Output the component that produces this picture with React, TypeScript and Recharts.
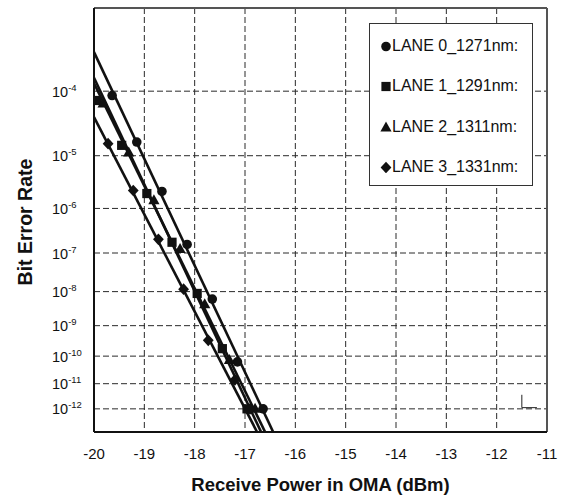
import React from 'react';
import {
  ComposedChart,
  Line,
  Scatter,
  XAxis,
  YAxis,
  CartesianGrid,
  Legend,
  ReferenceLine,
} from 'recharts';

// ---------- data ----------
const laneNames = ['LANE 0_1271nm:', 'LANE 1_1291nm:', 'LANE 2_1311nm:', 'LANE 3_1331nm:'];
const laneShapes = ['circle', 'square', 'triangle', 'diamond'];

// measured points (receive power dBm, bit error rate)
const lane0Power = [-19.64, -19.15, -18.65, -18.15, -17.65, -17.15, -16.64];
const lane0Ber = [8.7e-5, 1.7e-5, 2.2e-6, 1.6e-7, 6.2e-9, 6.3e-11, 1.0e-12];

const lane1Power = [-19.95, -19.45, -18.95, -18.45, -17.95, -17.45, -16.96];
const lane1Ber = [7.4e-5, 1.5e-5, 2.0e-6, 1.8e-7, 8.9e-9, 1.8e-10, 1.0e-12];

const lane2Power = [-19.82, -19.31, -18.81, -18.29, -17.8, -17.31, -16.8];
const lane2Ber = [6.7e-5, 1.14e-5, 1.47e-6, 1.24e-7, 4.4e-9, 7.4e-11, 1.0e-12];

const lane3Power = [-19.72, -19.22, -18.72, -18.22, -17.73, -17.2, -16.9];
const lane3Ber = [1.6e-5, 2.3e-6, 2.1e-7, 1.17e-8, 3.4e-10, 1.4e-11, 1.0e-12];

// fitted lines (end points)
const lane0FitPower = [-20, -16.44];
const lane0FitBer = [3.2e-4, 1e-13];
const lane1FitPower = [-20, -16.68];
const lane1FitBer = [1.52e-4, 1e-13];
const lane2FitPower = [-20, -16.6];
const lane2FitBer = [1.28e-4, 1e-13];
const lane3FitPower = [-20, -16.76];
const lane3FitBer = [4.2e-5, 1e-13];

// small corner mark in the lower right of the plot
const cornerMarkPower = [-11.5, -11.5, -11.2];
const cornerMarkBer = [10 ** -11.43, 10 ** -11.95, 10 ** -11.95];

// axes
const xTicks = [-20, -19, -18, -17, -16, -15, -14, -13, -12, -11];
const yExponents = [4, 5, 6, 7, 8, 9, 10, 11, 12];
const yDomainExponents = [3, 13];

// ---------- helpers ----------
const q = (ber: number) => Math.log10(-Math.log10(ber));
const toPoints = (xs: number[], bers: number[]) => xs.map((x, i) => ({ x, q: q(bers[i]) }));

const pointSets = [
  toPoints(lane0Power, lane0Ber),
  toPoints(lane1Power, lane1Ber),
  toPoints(lane2Power, lane2Ber),
  toPoints(lane3Power, lane3Ber),
];
const fitSets = [
  toPoints(lane0FitPower, lane0FitBer),
  toPoints(lane1FitPower, lane1FitBer),
  toPoints(lane2FitPower, lane2FitBer),
  toPoints(lane3FitPower, lane3FitBer),
];
const cornerMark = toPoints(cornerMarkPower, cornerMarkBer);

const minorTicks: number[] = [];
for (let i = 0; i <= 45; i++) minorTicks.push(Math.round((-20 + i * 0.2) * 10) / 10);

const yTicks = yExponents.map((n) => Math.log10(n));
const yDomain = yDomainExponents.map((n) => Math.log10(n));

const FONT = '"Liberation Sans", Arial, Helvetica, sans-serif';
const INK = '#111';

const drawShape = (shape: string, cx: number, cy: number, key?: string | number) => {
  switch (shape) {
    case 'circle':
      return <circle key={key} cx={cx} cy={cy} r={4.8} fill={INK} />;
    case 'square':
      return <rect key={key} x={cx - 4.6} y={cy - 4.6} width={9.2} height={9.2} fill={INK} />;
    case 'triangle':
      return (
        <polygon
          key={key}
          points={`${cx},${cy - 6} ${cx + 5.6},${cy + 4} ${cx - 5.6},${cy + 4}`}
          fill={INK}
        />
      );
    default:
      return (
        <polygon
          key={key}
          points={`${cx},${cy - 5.8} ${cx + 5.4},${cy} ${cx},${cy + 5.8} ${cx - 5.4},${cy}`}
          fill={INK}
        />
      );
  }
};

const makeShape = (shape: string) => (props: any) => {
  const { cx, cy } = props;
  if (cx == null || cy == null) return <g />;
  return drawShape(shape, cx, cy);
};

const XTick = (props: any) => {
  const { x, y, payload } = props;
  return (
    <text x={x} y={y + 27} textAnchor="middle" fontSize={15} fontFamily={FONT} fill={INK}>
      {payload.value}
    </text>
  );
};

const YTick = (props: any) => {
  const { x, y, payload } = props;
  const n = Math.round(Math.pow(10, payload.value));
  return (
    <text x={x - 42} y={y + 5.5} textAnchor="start" fontSize={14.5} fontFamily={FONT} fill={INK}>
      10
      <tspan dy={-6} fontSize={9.5}>
        -{n}
      </tspan>
    </text>
  );
};

const LegendBox = () => (
  <div
    style={{
      width: 164,
      height: 163,
      boxSizing: 'border-box',
      border: '1px solid #333',
      background: '#fff',
      fontFamily: FONT,
      fontSize: 16,
      color: INK,
    }}
  >
    {laneNames.map((name, i) => (
      <div
        key={name}
        style={{
          display: 'flex',
          alignItems: 'center',
          height: 40,
          paddingLeft: 10,
          marginTop: i === 0 ? 2 : i === 2 ? 1 : 0,
          whiteSpace: 'nowrap',
        }}
      >
        <svg width={12} height={12} style={{ display: 'block' }}>
          {drawShape(laneShapes[i], 6, 6.5)}
        </svg>
        <span style={{ marginLeft: 0 }}>{name}</span>
      </div>
    ))}
  </div>
);

export default function App() {
  return (
    <div style={{ position: 'absolute', left: 0, top: 0, width: 563, height: 496, background: '#fff' }}>
      <ComposedChart width={563} height={496} margin={{ top: 8, right: 16, bottom: 0, left: 0 }}>
        <CartesianGrid stroke="#2a2a2a" strokeDasharray="6 3" strokeWidth={1} />
        <XAxis
          dataKey="x"
          type="number"
          domain={[-20, -11]}
          ticks={xTicks}
          allowDataOverflow
          height={64}
          tickSize={0}
          tickMargin={0}
          tickLine={false}
          axisLine={{ stroke: INK, strokeWidth: 2 }}
          tick={<XTick />}
          label={(p: any) => {
            const vb = p.viewBox || { x: 94, y: 432, width: 453, height: 64 };
            return (
              <text
                x={vb.x + vb.width / 2}
                y={vb.y + 59}
                textAnchor="middle"
                fontSize={18.5}
                fontWeight="bold"
                fontFamily={FONT}
                fill={INK}
              >
                Receive Power in OMA (dBm)
              </text>
            );
          }}
        />
        <XAxis
          xAxisId="minor"
          type="number"
          orientation="bottom"
          mirror
          domain={[-20, -11]}
          ticks={minorTicks}
          allowDataOverflow
          tick={false}
          tickSize={4}
          tickLine={{ stroke: INK, strokeWidth: 1 }}
          axisLine={false}
        />
        <YAxis
          dataKey="q"
          type="number"
          reversed
          domain={yDomain}
          ticks={yTicks}
          allowDataOverflow
          width={94}
          tickSize={0}
          tickMargin={0}
          tickLine={false}
          axisLine={{ stroke: INK, strokeWidth: 2 }}
          tick={<YTick />}
          label={(p: any) => {
            const vb = p.viewBox || { x: 0, y: 8, width: 94, height: 424 };
            const cx = vb.x + 32;
            const cy = vb.y + vb.height / 2 + 2;
            return (
              <text
                x={cx}
                y={cy}
                transform={`rotate(-90, ${cx}, ${cy})`}
                textAnchor="middle"
                fontSize={19.5}
                fontWeight="bold"
                fontFamily={FONT}
                fill={INK}
              >
                Bit Error Rate
              </text>
            );
          }}
        />
        <ReferenceLine y={yDomain[0]} stroke="#555" strokeWidth={2} />
        <ReferenceLine x={-11} stroke="#555" strokeWidth={2} />
        <Line
          data={cornerMark}
          dataKey="q"
          type="linear"
          stroke="#222"
          strokeWidth={1}
          dot={false}
          activeDot={false}
          legendType="none"
          isAnimationActive={false}
        />
        {fitSets.map((d, i) => (
          <Line
            key={`fit${i}`}
            data={d}
            dataKey="q"
            type="linear"
            stroke={INK}
            strokeWidth={2.6}
            dot={false}
            activeDot={false}
            legendType="none"
            isAnimationActive={false}
          />
        ))}
        {pointSets.map((d, i) => (
          <Scatter
            key={`pts${i}`}
            name={laneNames[i]}
            data={d}
            dataKey="q"
            fill={INK}
            shape={makeShape(laneShapes[i])}
            isAnimationActive={false}
          />
        ))}
        <Legend
          layout="horizontal"
          verticalAlign="middle"
          align="center"
          content={() => <LegendBox />}
          wrapperStyle={{ left: 369, top: 23, width: 164, height: 163 }}
        />
      </ComposedChart>
    </div>
  );
}
